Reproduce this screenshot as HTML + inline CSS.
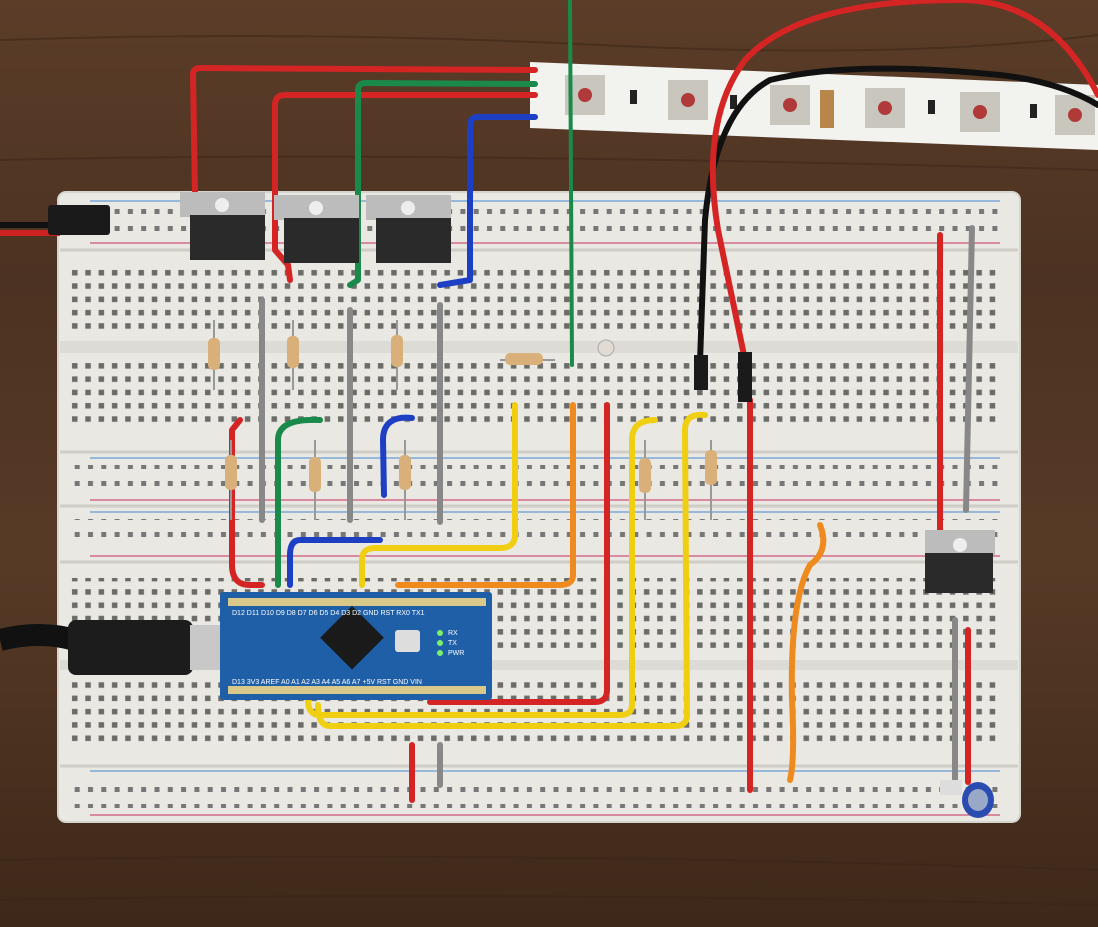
<!DOCTYPE html>
<html><head><meta charset="utf-8"><style>
html,body{margin:0;padding:0;background:#4a3222;}
svg{display:block}
</style></head><body>
<svg width="1098" height="927" viewBox="0 0 1098 927" xmlns="http://www.w3.org/2000/svg">
<defs>
<linearGradient id="wood" x1="0" y1="0" x2="0" y2="1">
<stop offset="0" stop-color="#5b3d28"/><stop offset="0.3" stop-color="#4c3222"/><stop offset="0.6" stop-color="#573a26"/><stop offset="1" stop-color="#3e2819"/>
</linearGradient>
<pattern id="holes" x="68" y="0" width="13.3" height="13.3" patternUnits="userSpaceOnUse">
<rect x="4" y="4" width="5.5" height="5.5" fill="#6b6b68"/>
</pattern>
<pattern id="rail" x="84" y="0" width="13.3" height="17" patternUnits="userSpaceOnUse">
<rect x="4" y="5" width="5" height="5" fill="#777"/>
</pattern>
</defs>
<rect width="1098" height="927" fill="url(#wood)"/>
<g stroke="#3a2416" stroke-width="2" opacity="0.5" fill="none">
<path d="M0 40 Q300 30 600 45 T1098 35"/><path d="M0 160 Q400 150 1098 170"/><path d="M0 860 Q500 850 1098 870"/><path d="M0 900 Q500 890 1098 905"/>
</g>
<!-- LED strip -->
<polygon points="530,62 1098,85 1098,150 530,128" fill="#f2f2ef"/>
<g fill="#c9c6bd">
<rect x="565" y="75" width="40" height="40"/><rect x="668" y="80" width="40" height="40"/><rect x="770" y="85" width="40" height="40"/><rect x="865" y="88" width="40" height="40"/><rect x="960" y="92" width="40" height="40"/><rect x="1055" y="95" width="40" height="40"/>
</g>
<g fill="#b03a3a"><circle cx="585" cy="95" r="7"/><circle cx="688" cy="100" r="7"/><circle cx="790" cy="105" r="7"/><circle cx="885" cy="108" r="7"/><circle cx="980" cy="112" r="7"/><circle cx="1075" cy="115" r="7"/></g>
<rect x="820" y="90" width="14" height="38" fill="#b8864a"/>
<g fill="#222"><rect x="630" y="90" width="7" height="14"/><rect x="730" y="95" width="7" height="14"/><rect x="928" y="100" width="7" height="14"/><rect x="1030" y="104" width="7" height="14"/></g>
<!-- breadboard -->
<rect x="58" y="192" width="962" height="630" rx="8" fill="#e9e8e3"/>
<rect x="58" y="192" width="962" height="630" rx="8" fill="none" stroke="#d5d4cf" stroke-width="2"/>
<g stroke="#cfcdc6" stroke-width="3">
<line x1="60" y1="250" x2="1018" y2="250"/><line x1="60" y1="452" x2="1018" y2="452"/><line x1="60" y1="506" x2="1018" y2="506"/><line x1="60" y1="562" x2="1018" y2="562"/><line x1="60" y1="766" x2="1018" y2="766"/>
</g>
<rect x="60" y="341" width="958" height="12" fill="#dcdbd5"/>
<rect x="60" y="660" width="958" height="10" fill="#dcdbd5"/>
<!-- rail lines -->
<g stroke-width="1.5">
<line x1="90" y1="201" x2="1000" y2="201" stroke="#7aa7d8"/><line x1="90" y1="243" x2="1000" y2="243" stroke="#d36a8a"/>
<line x1="90" y1="458" x2="1000" y2="458" stroke="#7aa7d8"/><line x1="90" y1="500" x2="1000" y2="500" stroke="#d36a8a"/>
<line x1="90" y1="512" x2="1000" y2="512" stroke="#7aa7d8"/><line x1="90" y1="556" x2="1000" y2="556" stroke="#d36a8a"/>
<line x1="90" y1="771" x2="1000" y2="771" stroke="#7aa7d8"/><line x1="90" y1="815" x2="1000" y2="815" stroke="#d36a8a"/>
</g>
<!-- holes -->
<rect x="70" y="208" width="930" height="30" fill="url(#rail)"/>
<rect x="70" y="465" width="930" height="30" fill="url(#rail)"/>
<rect x="70" y="519" width="930" height="30" fill="url(#rail)"/>
<rect x="70" y="778" width="930" height="30" fill="url(#rail)"/>
<rect x="70" y="264" width="930" height="70" fill="url(#holes)"/>
<rect x="70" y="358" width="930" height="70" fill="url(#holes)"/>
<rect x="70" y="578" width="930" height="70" fill="url(#holes)"/>
<rect x="70" y="676" width="930" height="70" fill="url(#holes)"/>
<!-- left power plug -->
<rect x="0" y="222" width="60" height="6" fill="#111"/><rect x="0" y="230" width="60" height="6" fill="#c22"/>
<rect x="48" y="205" width="62" height="30" rx="3" fill="#1a1a1a"/>
<!-- wires -->
<g fill="none" stroke-linecap="round" stroke-linejoin="round" stroke-width="6">
<path d="M195 195 L193 75 Q193 68 200 68 L535 70" stroke="#d42424"/>
<path d="M290 280 L288 265 L275 250 L275 105 Q275 95 285 95 L535 95" stroke="#d42424"/>
<path d="M350 285 L358 280 L358 90 Q358 83 366 83 L535 84" stroke="#1a8a4a"/>
<path d="M440 285 L470 280 L470 125 Q470 117 478 117 L535 117" stroke="#1c3fc4"/>
<path d="M570 0 L572 365" stroke="#1a8a4a" stroke-width="4"/>
<path d="M700 362 L705 220 Q715 110 770 80 Q850 60 1000 75 Q1060 82 1098 105" stroke="#111"/>
<path d="M745 360 L718 230 Q700 120 745 60 Q800 0 960 0 Q1050 0 1098 95" stroke="#d42424"/>
<path d="M262 300 L262 520" stroke="#888"/><path d="M350 310 L350 520" stroke="#888"/><path d="M440 305 L440 522" stroke="#888"/>
<path d="M240 420 L232 430 L232 565 Q232 585 250 585 L262 585" stroke="#d42424"/>
<path d="M320 420 Q278 418 278 440 L278 585" stroke="#1a8a4a"/>
<path d="M412 418 Q383 415 383 440 L384 495" stroke="#1c3fc4"/>
<path d="M380 540 L300 540 Q290 540 290 555 L290 585" stroke="#1c3fc4"/>
<path d="M515 405 L515 535 Q515 548 500 548 L375 548 Q362 548 362 560 L362 585" stroke="#f0cf12"/>
<path d="M573 405 L573 575 Q573 585 560 585 L398 585" stroke="#ef8b1e"/>
<path d="M607 405 L607 690 Q607 702 595 702 L430 702" stroke="#d42424"/>
<path d="M655 420 Q632 420 632 440 L632 705 Q632 715 620 715 L320 715 Q308 715 308 700" stroke="#f0cf12"/>
<path d="M705 415 Q685 413 685 430 L687 715 Q687 726 675 726 L330 726 Q318 726 318 705" stroke="#f0cf12"/>
<path d="M750 400 L750 790" stroke="#d42424"/>
<path d="M820 525 Q830 550 810 565 Q790 600 792 700 Q795 760 790 780" stroke="#ef8b1e"/>
<path d="M940 235 L940 575" stroke="#d42424"/><path d="M972 228 L966 510" stroke="#888"/>
<path d="M955 620 L955 780" stroke="#888"/><path d="M968 630 L968 782" stroke="#d42424"/>
<path d="M412 745 L412 800" stroke="#d42424"/><path d="M440 745 L440 785" stroke="#888"/>
</g>
<!-- connectors on strip -->
<rect x="694" y="355" width="14" height="35" fill="#1a1a1a"/><rect x="738" y="352" width="14" height="50" fill="#1a1a1a"/>
<!-- resistors -->
<g stroke="#999" stroke-width="2" fill="none">
<path d="M214 320 L214 390"/><path d="M293 320 L293 390"/><path d="M397 320 L397 390"/><path d="M231 440 L231 520"/><path d="M315 440 L315 520"/><path d="M405 440 L405 520"/><path d="M500 360 L555 360"/><path d="M645 440 L645 520"/><path d="M711 440 L711 520"/>
</g>
<g fill="#d9b07a">
<rect x="208" y="338" width="12" height="32" rx="5"/><rect x="287" y="336" width="12" height="32" rx="5"/><rect x="391" y="335" width="12" height="32" rx="5"/>
<rect x="225" y="455" width="12" height="35" rx="5"/><rect x="309" y="457" width="12" height="35" rx="5"/><rect x="399" y="455" width="12" height="35" rx="5"/>
<rect x="505" y="353" width="38" height="12" rx="5"/><rect x="639" y="458" width="12" height="35" rx="5"/><rect x="705" y="450" width="12" height="35" rx="5"/>
</g>
<circle cx="606" cy="348" r="8" fill="#e0dcd4" stroke="#aaa"/>
<!-- transistors -->
<g>
<rect x="180" y="192" width="85" height="25" fill="#bcbcbc"/><circle cx="222" cy="205" r="7" fill="#eee"/><rect x="190" y="215" width="75" height="45" fill="#2a2a2a"/>
<rect x="274" y="195" width="85" height="25" fill="#bcbcbc"/><circle cx="316" cy="208" r="7" fill="#eee"/><rect x="284" y="218" width="75" height="45" fill="#2a2a2a"/>
<rect x="366" y="195" width="85" height="25" fill="#bcbcbc"/><circle cx="408" cy="208" r="7" fill="#eee"/><rect x="376" y="218" width="75" height="45" fill="#2a2a2a"/>
<rect x="925" y="530" width="70" height="25" fill="#bcbcbc"/><circle cx="960" cy="545" r="7" fill="#eee"/><rect x="925" y="553" width="68" height="40" fill="#2a2a2a"/>
</g>
<!-- USB cable -->
<path d="M0 640 Q40 630 75 640" stroke="#111" stroke-width="22" fill="none"/>
<rect x="68" y="620" width="125" height="55" rx="8" fill="#1c1c1c"/>
<rect x="190" y="625" width="38" height="45" fill="#c8c8c8"/>
<!-- Arduino -->
<rect x="220" y="592" width="272" height="108" rx="3" fill="#1f5fa8"/>
<g fill="#d8c88a">
<rect x="228" y="598" width="258" height="8"/><rect x="228" y="686" width="258" height="8"/>
</g>
<rect x="330" y="615" width="45" height="45" fill="#1a1a1a" transform="rotate(45 352 637)"/>
<rect x="395" y="630" width="25" height="22" rx="3" fill="#ddd"/>
<g fill="#7cf06a"><circle cx="440" cy="633" r="3"/><circle cx="440" cy="643" r="3"/><circle cx="440" cy="653" r="3"/></g>
<g font-family="Liberation Sans, sans-serif" font-size="7" fill="#fff">
<text x="232" y="615">D12 D11 D10 D9  D8  D7  D6  D5  D4  D3  D2 GND RST RX0 TX1</text>
<text x="232" y="684">D13 3V3 AREF A0  A1  A2  A3  A4  A5  A6  A7 +5V RST GND VIN</text>
<text x="448" y="635">RX</text><text x="448" y="645">TX</text><text x="448" y="655">PWR</text>
</g>
<!-- capacitor -->
<rect x="940" y="780" width="22" height="15" fill="#ddd"/>
<ellipse cx="978" cy="800" rx="16" ry="18" fill="#2a4cb0"/>
<ellipse cx="978" cy="800" rx="10" ry="11" fill="#9aa8c8"/>
</svg>
</body></html>
